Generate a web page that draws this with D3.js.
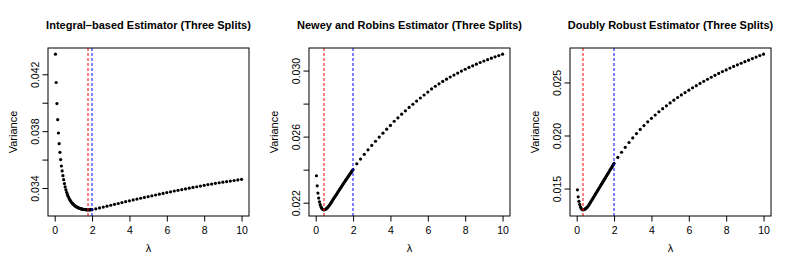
<!DOCTYPE html>
<html>
<head>
<meta charset="utf-8">
<script src="https://cdn.jsdelivr.net/npm/d3@7"></script>
<style>
  body { margin: 0; background: #fff; }
  text { font-family: 'Liberation Sans', Arial, sans-serif; fill: #000; }
</style>
</head>
<body>
<svg width="793" height="264"></svg>
<script>
// lambda grid: fine up to 2, then every 0.2
const lambda = [
  0.04,0.08,0.12,0.16,0.20,0.24,0.28,0.32,0.36,0.40,0.44,0.48,0.52,0.56,0.60,0.64,0.68,0.72,0.76,0.80,
  0.84,0.88,0.92,0.96,1.00,1.04,1.08,1.12,1.16,1.20,1.24,1.28,1.32,1.36,1.40,1.44,1.48,1.52,1.56,1.60,
  1.64,1.68,1.72,1.76,1.80,1.84,1.88,1.92,1.96,2.00,
  2.2,2.4,2.6,2.8,3.0,3.2,3.4,3.6,3.8,4.0,4.2,4.4,4.6,4.8,5.0,5.2,5.4,5.6,5.8,6.0,
  6.2,6.4,6.6,6.8,7.0,7.2,7.4,7.6,7.8,8.0,8.2,8.4,8.6,8.8,9.0,9.2,9.4,9.6,9.8,10.0
];

const varIntegral = [
  0.04341,0.04142,0.03994,0.03881,0.03787,0.03712,0.03651,0.03600,0.03555,0.03520,0.03487,0.03459,
  0.03431,0.03408,0.03387,0.03370,0.03355,0.03342,0.03330,0.03320,0.03311,0.03303,0.03296,0.03290,
  0.03285,0.03280,0.03275,0.03271,0.03268,0.03265,0.03262,0.03260,0.03257,0.03256,0.03254,0.03253,
  0.03251,0.03250,0.03249,0.03249,0.03248,0.03248,0.03247,0.03247,0.03247,0.03247,0.03247,0.03248,
  0.03248,0.03248,
  0.03254,0.03260,0.03266,0.03272,0.03279,0.03285,0.03291,0.03298,0.03304,0.03310,
  0.03316,0.03322,0.03328,0.03334,0.03339,0.03345,0.03351,0.03357,0.03362,0.03368,
  0.03373,0.03379,0.03384,0.03389,0.03394,0.03399,0.03404,0.03409,0.03414,0.03419,
  0.03424,0.03428,0.03433,0.03437,0.03441,0.03445,0.03449,0.03453,0.03457,0.03461
];

const varNewey = [
  0.02363,0.02302,0.02258,0.02228,0.02205,0.02188,0.02176,0.02167,0.02161,0.02158,0.02157,
  0.02158,0.02160,0.02163,0.02167,0.02172,0.02177,0.02183,0.02189,0.02196,0.02203,0.02210,0.02217,
  0.02224,0.02231,0.02238,0.02245,0.02252,0.02259,0.02266,0.02273,0.02280,0.02287,0.02294,0.02301,
  0.02308,0.02315,0.02322,0.02328,0.02335,0.02342,0.02349,0.02355,0.02362,0.02368,0.02375,0.02381,
  0.02388,0.02394,0.02401,
  0.02435,0.02464,0.02493,0.02520,0.02547,0.02572,0.02597,0.02621,0.02645,0.02668,
  0.02693,0.02714,0.02736,0.02756,0.02777,0.02796,0.02815,0.02834,0.02852,0.02870,
  0.02889,0.02905,0.02920,0.02934,0.02948,0.02961,0.02973,0.02985,0.02997,0.03008,
  0.03019,0.03029,0.03039,0.03049,0.03058,0.03066,0.03075,0.03083,0.03091,0.03099
];

const varDoubly = [
  0.01488,0.01422,0.01380,0.01350,0.01328,0.01313,0.01304,0.01300,
  0.01301,0.01303,0.01306,0.01311,0.01317,0.01324,0.01333,0.01342,0.01354,0.01365,0.01377,0.01389,
  0.01400,0.01412,0.01423,0.01435,0.01447,0.01458,0.01470,0.01481,0.01493,0.01505,0.01516,0.01528,
  0.01539,0.01551,0.01563,0.01574,0.01586,0.01597,0.01609,0.01621,0.01632,0.01644,0.01655,0.01667,
  0.01679,0.01690,0.01702,0.01713,0.01725,0.01737,
  0.01793,0.01842,0.01889,0.01934,0.01977,0.02018,0.02057,0.02094,0.02129,0.02162,
  0.02193,0.02224,0.02253,0.02280,0.02307,0.02333,0.02358,0.02382,0.02405,0.02427,
  0.02449,0.02470,0.02491,0.02511,0.02530,0.02549,0.02567,0.02585,0.02602,0.02618,
  0.02635,0.02651,0.02666,0.02681,0.02696,0.02710,0.02725,0.02739,0.02753,0.02766
];

const titles = [
  'Integral\u2013based Estimator (Three Splits)',
  'Newey and Robins Estimator (Three Splits)',
  'Doubly Robust Estimator (Three Splits)'
];
const redLambda = [1.78, 0.46, 0.34];   // red dashed line
const blueLambda = 2;                    // blue dashed line
const xTicks = [0, 2, 4, 6, 8, 10];
const yTicks = [
  [0.034, 0.036, 0.038, 0.040, 0.042],
  [0.022, 0.024, 0.026, 0.028, 0.030],
  [0.015, 0.020, 0.025]
];
const yTickLabels = [
  [0.034, 0.038, 0.042],
  [0.022, 0.026, 0.030],
  [0.015, 0.020, 0.025]
];

const svg = d3.select('svg');

const panelLeft = [48, 309, 570];
const panelWidth = 201;
const panelTop = 48;
const panelHeight = 168;

// R style axis range: data range extended by 4% each side
const pad = ext => {
  const r = ext[1] - ext[0];
  return [ext[0] - 0.04 * r, ext[1] + 0.04 * r];
};

const render = (values, i) => {
  const data = lambda.map((l, j) => ({lambda: l, v: values[j]}));

  const xScale = d3.scaleLinear()
    .domain(pad(d3.extent(lambda)))
    .range([0, panelWidth]);

  const yScale = d3.scaleLinear()
    .domain(pad(d3.extent(values)))
    .range([panelHeight, 0]);

  const g = svg.append('g')
    .attr('transform', `translate(${panelLeft[i]}, ${panelTop})`);

  const xAxis = d3.axisBottom(xScale)
    .tickValues(xTicks)
    .tickSize(5.5)
    .tickPadding(4.9)
    .tickFormat(d3.format('d'));

  const fmt = d3.format('.3f');
  const yAxis = d3.axisLeft(yScale)
    .tickValues(yTicks[i])
    .tickSize(5.5)
    .tickFormat(d => yTickLabels[i].some(t => Math.abs(t - d) < 1e-9) ? fmt(d) : '');

  const xg = g.append('g')
    .attr('transform', `translate(0, ${panelHeight})`)
    .call(xAxis);
  const yg = g.append('g').call(yAxis);

  [xg, yg].forEach(a => {
    a.select('.domain').remove();
    a.selectAll('line').attr('stroke', '#000');
    a.selectAll('text').attr('font-size', 10.5).attr('font-family', null);
  });

  yg.selectAll('text')
    .attr('transform', 'rotate(-90)')
    .attr('x', 0)
    .attr('y', -9.5)
    .attr('dy', 0)
    .attr('text-anchor', 'middle');

  g.selectAll('circle').data(data)
    .enter().append('circle')
      .attr('cx', d => xScale(d.lambda))
      .attr('cy', d => yScale(d.v))
      .attr('r', 1.6)
      .attr('fill', '#000');

  const vline = (at, colour) => {
    const x = Math.round(xScale(at));
    g.append('line')
      .attr('x1', x).attr('x2', x)
      .attr('y1', 0).attr('y2', panelHeight)
      .attr('stroke', colour)
      .attr('stroke-dasharray', '3,2');
  };
  vline(redLambda[i], '#ff0000');
  vline(blueLambda, '#0000ff');

  g.append('rect')
    .attr('width', panelWidth)
    .attr('height', panelHeight)
    .attr('fill', 'none')
    .attr('stroke', '#000');

  g.append('text')
    .attr('x', panelWidth / 2)
    .attr('y', -18.7)
    .attr('text-anchor', 'middle')
    .attr('font-size', 11)
    .attr('font-weight', 'bold')
    .text(titles[i]);

  g.append('text')
    .attr('x', panelWidth / 2)
    .attr('y', panelHeight + 35.5)
    .attr('text-anchor', 'middle')
    .attr('font-size', 11)
    .text('\u03bb');

  g.append('text')
    .attr('transform', `translate(-31.5, ${panelHeight / 2}) rotate(-90)`)
    .attr('text-anchor', 'middle')
    .attr('font-size', 11)
    .text('Variance');
};

[varIntegral, varNewey, varDoubly].forEach(render);
</script>
</body>
</html>
